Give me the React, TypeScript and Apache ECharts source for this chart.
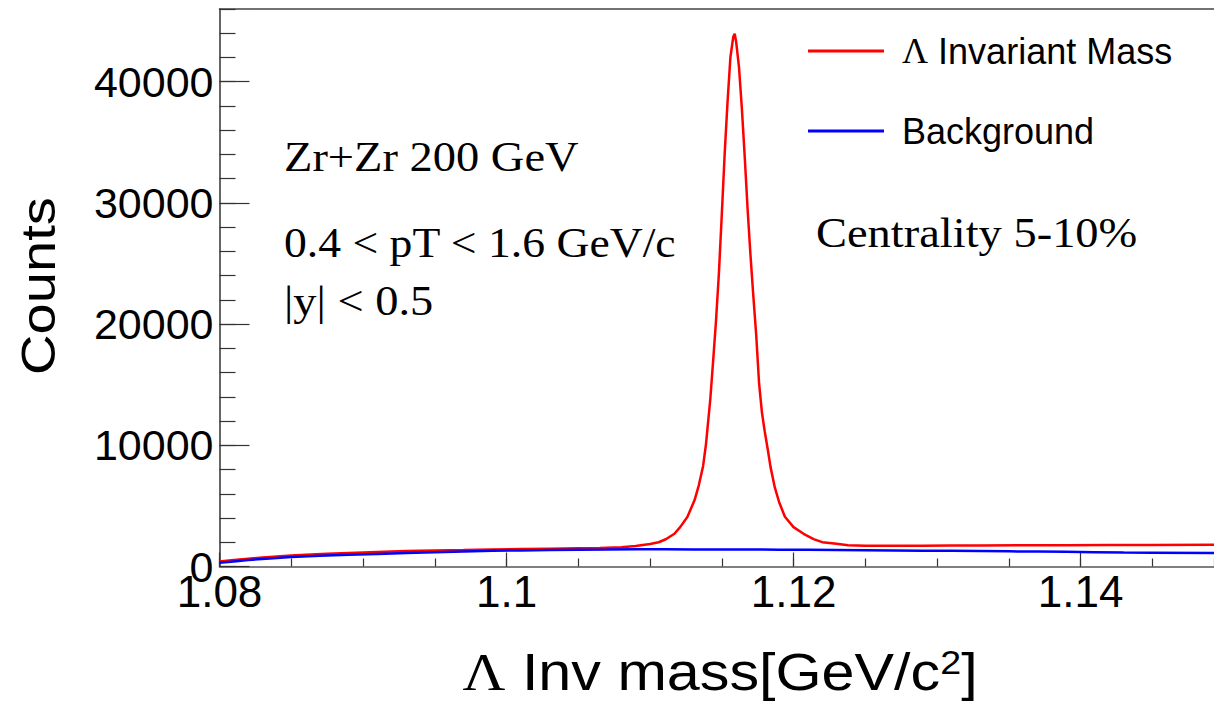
import React, { useEffect, useRef } from "react";
import * as echarts from "echarts";

// Λ candidate invariant mass (red) – bin centre [GeV/c^2] and counts
const massRed = [
  1.08, 1.081, 1.082, 1.083, 1.084, 1.085, 1.086, 1.0875, 1.089, 1.091, 1.093, 1.095, 1.097, 1.099,
  1.101, 1.103, 1.105, 1.1065, 1.108, 1.109, 1.11, 1.1106, 1.1111, 1.1117, 1.1121, 1.1126, 1.1131,
  1.1134, 1.1137, 1.1139, 1.1142, 1.1144, 1.1146, 1.1148, 1.115, 1.1152, 1.1154, 1.1156, 1.1158,
  1.1159, 1.116, 1.1162, 1.1164, 1.1166, 1.1168, 1.117, 1.1172, 1.1174, 1.1176, 1.1178, 1.118,
  1.1182, 1.1184, 1.1187, 1.119, 1.1194, 1.12, 1.1207, 1.1214, 1.122, 1.123, 1.1238, 1.125, 1.127,
  1.129, 1.131, 1.133, 1.136, 1.139, 1.142, 1.145, 1.1493,
];
const countsRed = [
  410, 530, 640, 740, 820, 900, 970, 1050, 1120, 1200, 1270, 1320, 1360, 1410,
  1440, 1470, 1500, 1520, 1590, 1690, 1860, 2000, 2250, 2700, 3250, 4080, 5460,
  6700, 8300, 10100, 13800, 17000, 20300, 24200, 29000, 34000, 38300, 42000, 43700,
  43950, 43300, 41200, 37800, 33800, 29500, 25700, 22300, 19100, 15100, 12700, 11100,
  9700, 8200, 6500, 5300, 4100, 3250, 2700, 2260, 2010, 1880, 1760, 1720, 1710,
  1720, 1730, 1740, 1750, 1760, 1770, 1780, 1790,
];

// Background (blue)
const massBg = [
  1.08, 1.081, 1.082, 1.0835, 1.085, 1.087, 1.089, 1.091, 1.093, 1.095, 1.097, 1.099, 1.101,
  1.103, 1.105, 1.107, 1.109, 1.111, 1.113, 1.115, 1.117, 1.119, 1.121, 1.123, 1.125, 1.127,
  1.129, 1.131, 1.133, 1.135, 1.137, 1.139, 1.141, 1.143, 1.145, 1.1493,
];
const countsBg = [
  300, 420, 530, 670, 780, 880, 960, 1040, 1110, 1170, 1230, 1290, 1330,
  1360, 1390, 1400, 1420, 1420, 1410, 1410, 1400, 1390, 1380, 1360, 1340, 1320,
  1300, 1290, 1270, 1250, 1230, 1210, 1180, 1150, 1140, 1120,
];

const seriesNames = ["Λ Invariant Mass", "Background"];
const xMin = 1.08;
const xMax = 1.1493;
const yMin = 0;
const yMax = 46000;

export default function App() {
  const ref = useRef<HTMLDivElement>(null);

  useEffect(() => {
    if (!ref.current) return;
    const chart = echarts.init(ref.current, null, { renderer: "svg" });
    const sans = "'Liberation Sans', Arial, Helvetica, sans-serif";
    const serif = "'Liberation Serif', 'Times New Roman', serif";
    const axisColor = "#333";

    const redData = massRed.map((m, i) => [m, countsRed[i]]);
    const bgData = massBg.map((m, i) => [m, countsBg[i]]);

    chart.setOption({
      animation: false,
      backgroundColor: "#ffffff",
      grid: { left: 219.5, right: 0, top: 9, bottom: 136.5, containLabel: false },
      legend: {
        data: seriesNames,
        orient: "vertical",
        left: 808,
        top: 33,
        padding: 0,
        icon: "rect",
        itemWidth: 76,
        itemHeight: 3,
        itemGap: 44,
        textStyle: {
          fontFamily: sans,
          fontSize: 36,
          color: "#000",
          padding: [0, 0, 0, 13],
          rich: { g: { fontFamily: serif, fontSize: 36, color: "#000" } },
        },
        formatter: (name: string) =>
          name.startsWith("Λ") ? "{g|Λ}" + name.slice(1) : name,
      },
      xAxis: [
        {
          type: "value",
          position: "bottom",
          min: xMin,
          max: xMax,
          interval: 0.02,
          axisLine: { show: true, onZero: false, lineStyle: { color: "#555", width: 1.5 } },
          axisTick: { show: true, inside: true, length: 14, lineStyle: { color: axisColor, width: 1.2 } },
          axisLabel: {
            show: true,
            margin: 3,
            fontSize: 44,
            fontFamily: sans,
            color: "#000",
            showMaxLabel: false,
            formatter: (v: number) => String(+v.toFixed(3)),
          },
          splitLine: { show: false },
        },
        {
          type: "value",
          position: "bottom",
          min: xMin,
          max: xMax,
          interval: 0.005,
          axisLine: { show: false, onZero: false },
          axisTick: { show: true, inside: true, length: 8, lineStyle: { color: axisColor, width: 1.2 } },
          axisLabel: { show: false },
          splitLine: { show: false },
        },
        {
          type: "value",
          position: "top",
          min: xMin,
          max: xMax,
          axisLine: { show: true, onZero: false, lineStyle: { color: "#444", width: 1.5 } },
          axisTick: { show: false },
          axisLabel: { show: false },
          splitLine: { show: false },
        },
      ],
      yAxis: [
        {
          type: "value",
          position: "left",
          min: yMin,
          max: yMax,
          interval: 10000,
          axisLine: { show: true, onZero: false, lineStyle: { color: axisColor, width: 1.5 } },
          axisTick: { show: true, inside: true, length: 30, lineStyle: { color: axisColor, width: 1.2 } },
          axisLabel: {
            show: true,
            margin: 6,
            fontSize: 43,
            fontFamily: sans,
            color: "#000",
            showMaxLabel: false,
            formatter: (v: number) => String(v),
          },
          splitLine: { show: false },
        },
        {
          type: "value",
          position: "left",
          min: yMin,
          max: yMax,
          interval: 2000,
          axisLine: { show: false, onZero: false },
          axisTick: { show: true, inside: true, length: 16, lineStyle: { color: axisColor, width: 1.2 } },
          axisLabel: { show: false },
          splitLine: { show: false },
        },
      ],
      series: [
        {
          name: seriesNames[0],
          type: "line",
          xAxisIndex: 0,
          yAxisIndex: 0,
          data: redData,
          symbol: "none",
          smooth: false,
          lineStyle: { color: "#ff0000", width: 2.5 },
          itemStyle: { color: "#ff0000" },
          z: 3,
        },
        {
          name: seriesNames[1],
          type: "line",
          xAxisIndex: 0,
          yAxisIndex: 0,
          data: bgData,
          symbol: "none",
          smooth: false,
          lineStyle: { color: "#0000ff", width: 2.5 },
          itemStyle: { color: "#0000ff" },
          z: 4,
        },
      ],
      graphic: [
        {
          type: "text",
          x: 284,
          y: 157,
          scaleX: 1.12,
          style: { text: "Zr+Zr 200 GeV", fontSize: 41.5, fontFamily: serif, fill: "#000", align: "left", verticalAlign: "middle" },
        },
        {
          type: "text",
          x: 284,
          y: 243,
          scaleX: 1.1,
          style: { text: "0.4 < pT < 1.6 GeV/c", fontSize: 41.5, fontFamily: serif, fill: "#000", align: "left", verticalAlign: "middle" },
        },
        {
          type: "text",
          x: 284,
          y: 301,
          scaleX: 1.12,
          style: { text: "|y| < 0.5", fontSize: 41.5, fontFamily: serif, fill: "#000", align: "left", verticalAlign: "middle" },
        },
        {
          type: "text",
          x: 816,
          y: 233,
          scaleX: 1.12,
          style: { text: "Centrality 5-10%", fontSize: 41.5, fontFamily: serif, fill: "#000", align: "left", verticalAlign: "middle" },
        },
        {
          type: "text",
          x: 38,
          y: 286,
          rotation: Math.PI / 2,
          scaleX: 1.17,
          style: { text: "Counts", fontSize: 48, fontFamily: sans, fill: "#000", align: "center", verticalAlign: "middle" },
        },
        {
          type: "text",
          x: 720,
          y: 672,
          scaleX: 1.14,
          style: {
            text: "{g|Λ} Inv mass[GeV/c{s|2}]",
            fontSize: 52,
            fontFamily: sans,
            fill: "#000",
            align: "center",
            verticalAlign: "middle",
            rich: {
              g: { fontFamily: serif, fontSize: 52, fill: "#000" },
              s: { fontFamily: sans, fontSize: 33, lineHeight: 20, fill: "#000", verticalAlign: "top" },
            },
          },
        },
      ],
    });

    return () => chart.dispose();
  }, []);

  return (
    <div
      ref={ref}
      style={{ position: "fixed", left: 0, top: 0, width: 1214, height: 703, background: "#fff" }}
    />
  );
}
